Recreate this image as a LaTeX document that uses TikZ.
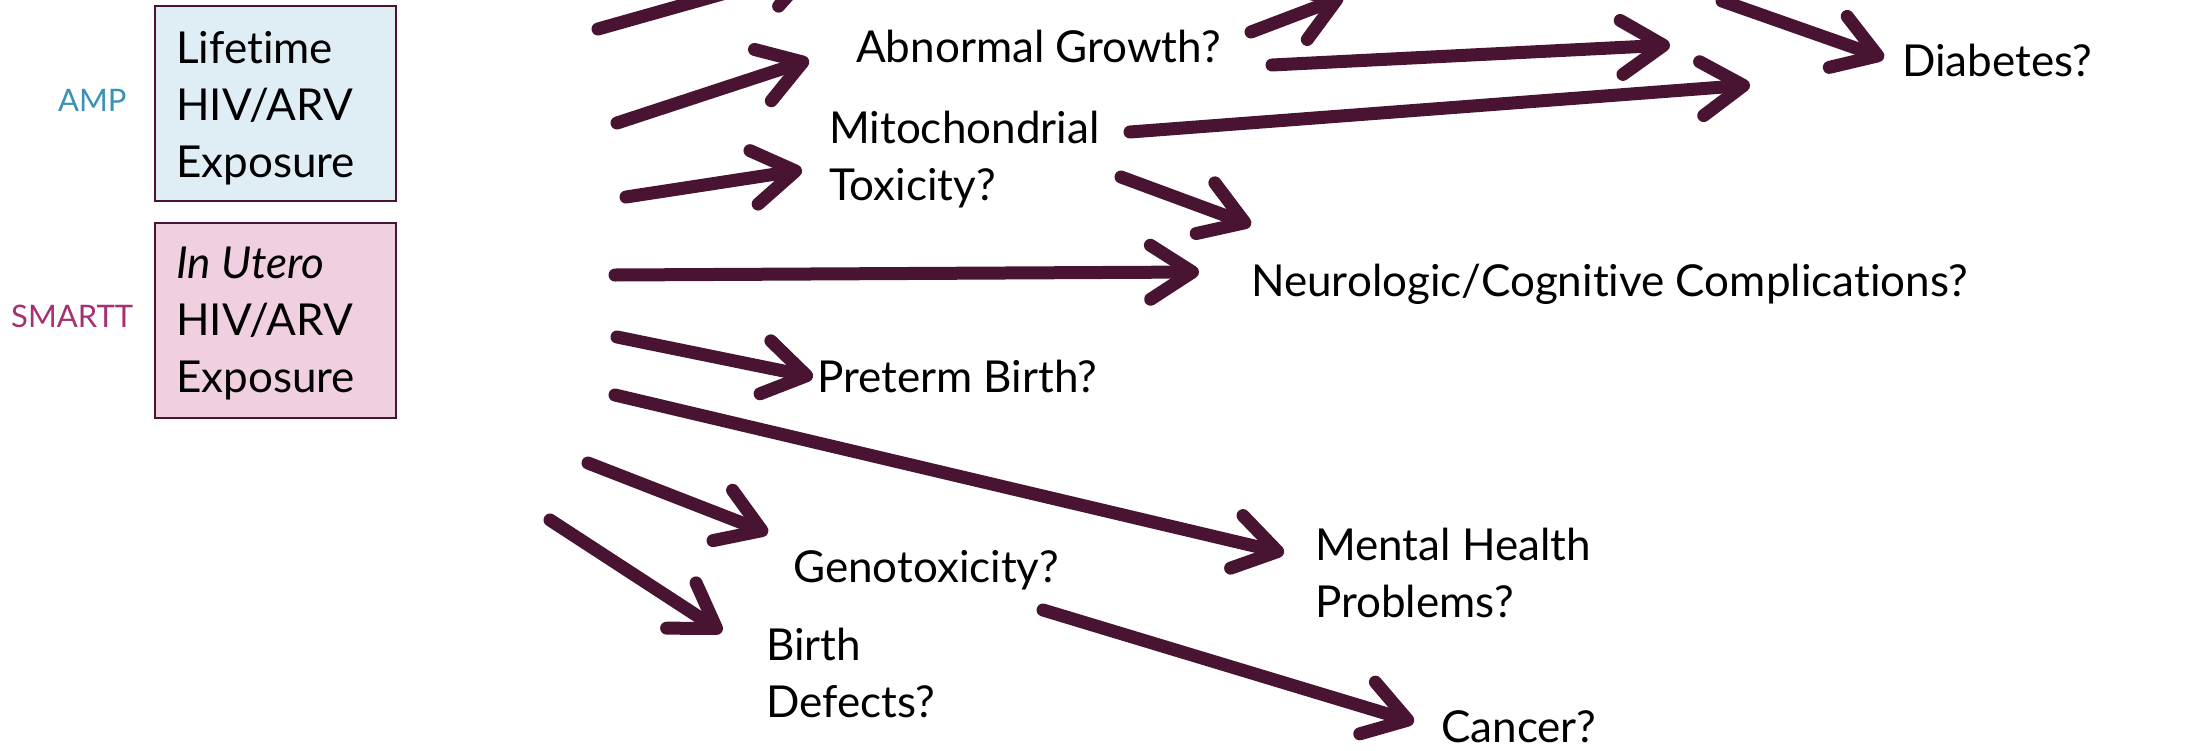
\documentclass[tikz,border=0pt]{standalone}
\usepackage{fontspec}
\setmainfont{Lato}[Ligatures=NoCommon]
\usetikzlibrary{arrows.meta}
\definecolor{plum}{RGB}{72,20,50}
\definecolor{ampfill}{RGB}{223,238,245}
\definecolor{smfill}{RGB}{240,208,224}
\definecolor{ampcol}{RGB}{58,146,181}
\definecolor{smcol}{RGB}{166,48,112}
\begin{document}
\begin{tikzpicture}[x=1pt,y=-1pt,
  conn/.style={draw=plum, line width=13pt, line cap=round, line join=round,
    -{Straight Barb[length=42pt,width=54pt,round]}},
  lbl/.style={anchor=base west, inner sep=0pt, font=\fontsize{44}{57}\selectfont, text=black},
  tag/.style={anchor=base west, inner sep=0pt, font=\fontsize{31}{36}\selectfont},
  expbox/.style={draw=plum, line width=2pt, minimum width=241pt, minimum height=195pt, inner sep=0pt}]
\useasboundingbox (0,0) rectangle (2203,750);
\clip (0,0) rectangle (2203,750);
\fill[white] (0,0) rectangle (2203,750);

% boxes
\node[expbox, fill=ampfill] (ampbox) at (275.5,103.5) {};
\node[expbox, fill=smfill] (smbox) at (275.5,320) {};
\node[lbl] (amptext) at (176,63) {\begin{tabular}[t]{@{}l@{}}Lifetime\\HIV/ARV\\Exposure\end{tabular}};
\node[lbl] (smtext) at (176,278) {\begin{tabular}[t]{@{}l@{}}\textit{In Utero}\\HIV/ARV\\Exposure\end{tabular}};
\node[tag, text=ampcol] (amp) at (58,111) {AMP};
\node[tag, text=smcol] (smartt) at (11,327) {SMARTT};

% outcome labels
\node[lbl] (growth) at (856,62) {Abnormal Growth?};
\node[lbl] (mito) at (829,143) {\begin{tabular}[t]{@{}l@{}}Mitochondrial\\Toxicity?\end{tabular}};
\node[lbl] (neuro) at (1251,296) {Neurologic/Cognitive Complications?};
\node[lbl] (diab) at (1902,76) {Diabetes?};
\node[lbl] (preterm) at (817,392) {Preterm Birth?};
\node[lbl] (geno) at (793,582) {Genotoxicity?};
\node[lbl] (mental) at (1315,560) {\begin{tabular}[t]{@{}l@{}}Mental Health\\Problems?\end{tabular}};
\node[lbl] (birth) at (766,660) {\begin{tabular}[t]{@{}l@{}}Birth\\Defects?\end{tabular}};
\node[lbl] (cancer) at (1441,742) {Cancer?};

% connector end points
\coordinate (s1) at (598,29);   \coordinate (t1) at (818,-33);
\coordinate (s2) at (617,123);  \coordinate (t2) at (809,60);
\coordinate (s3) at (626,197);  \coordinate (t3) at (802,170);
\coordinate (s4) at (615,275);  \coordinate (t4) at (1199,272);
\coordinate (s5) at (617,337);  \coordinate (t5) at (813,377);
\coordinate (s6) at (1121,177); \coordinate (t6) at (1251,225);
\coordinate (s7) at (1130,132); \coordinate (t7) at (1750,85);
\coordinate (s8) at (1272,65);  \coordinate (t8) at (1670,45);
\coordinate (s9) at (1251,32);  \coordinate (t9) at (1343,-3);
\coordinate (s10) at (1722,1);  \coordinate (t10) at (1884,58);
\coordinate (s12) at (615,395); \coordinate (t12) at (1284,553);
\coordinate (s13) at (588,463); \coordinate (t13) at (768,533);
\coordinate (s14) at (550,520); \coordinate (t14) at (722,632);
\coordinate (s15) at (1043,610); \coordinate (t15) at (1414,722);

\foreach \i in {1,2,3,4,5,6,7,8,9,10,12,13,14,15}
  \draw[conn] (s\i) -- (t\i);
\end{tikzpicture}
\end{document}
